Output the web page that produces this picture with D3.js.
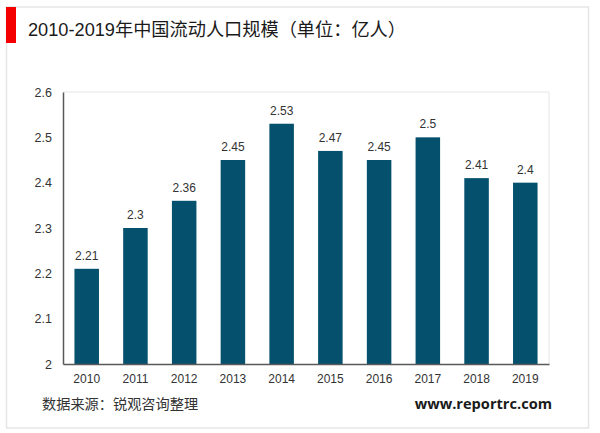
<!DOCTYPE html>
<html>
<head>
<meta charset="utf-8">
<script src="https://cdn.jsdelivr.net/npm/d3@7/dist/d3.min.js"></script>
<style>
html, body { margin: 0; padding: 0; background: #fff; }
svg { display: block; }
text { font-family: "Liberation Sans", Arial, sans-serif; }
.cjk { font-family: "Liberation Sans", "Noto Sans CJK SC", sans-serif; }
.site { font-family: "Open Sans", sans-serif; font-weight: 700; }
</style>
</head>
<body>
<div id="chart"></div>
<script>
var years = ['2010', '2011', '2012', '2013', '2014', '2015', '2016', '2017', '2018', '2019'];
var values = [2.21, 2.3, 2.36, 2.45, 2.53, 2.47, 2.45, 2.5, 2.41, 2.4];
var yTicks = [2, 2.1, 2.2, 2.3, 2.4, 2.5, 2.6];
var titleText = '2010-2019年中国流动人口规模（单位：亿人）';
var sourceText = '数据来源：锐观咨询整理';
var siteText = 'www.reportrc.com';

var width = 600, height = 433;
var margin = { top: 92, right: 51, bottom: 69, left: 63 };

var svg = d3.select('#chart').append('svg')
	.attr('width', width)
	.attr('height', height);

// 外框
svg.append('rect')
	.attr('x', 6.5).attr('y', 7)
	.attr('width', 582).attr('height', 421)
	.attr('fill', '#fff')
	.attr('stroke', '#e6e6e6')
	.attr('stroke-width', 1.5);

svg.append('rect')
	.attr('x', 6).attr('y', 7)
	.attr('width', 10).attr('height', 36)
	.attr('fill', '#f50000');

svg.append('text')
	.attr('class', 'cjk')
	.attr('x', 28).attr('y', 36)
	.attr('font-size', 18.2)
	.attr('fill', '#1a1a1a')
	.text(titleText);

var x = d3.scaleBand()
	.domain(years)
	.range([margin.left, width - margin.right])
	.paddingInner(0.497)
	.paddingOuter(0.235);

var y = d3.scaleLinear()
	.domain([2, 2.6])
	.range([height - margin.bottom, margin.top]);

// 上、右边的浅色线
svg.append('path')
	.attr('d', 'M' + margin.left + ',' + margin.top + 'H' + (width - margin.right) + 'V' + (height - margin.bottom))
	.attr('fill', 'none')
	.attr('stroke', '#e6e6e6')
	.attr('stroke-width', 1);

svg.selectAll('.bar')
	.data(values)
	.enter().append('rect')
	.attr('class', 'bar')
	.attr('x', function(d, i) { return x(years[i]); })
	.attr('y', function(d) { return y(d); })
	.attr('width', x.bandwidth())
	.attr('height', function(d) { return y(2) - y(d); })
	.attr('fill', '#04506d');

svg.selectAll('.label')
	.data(values)
	.enter().append('text')
	.attr('class', 'label')
	.attr('x', function(d, i) { return x(years[i]) + x.bandwidth() / 2; })
	.attr('y', function(d) { return y(d) - 9; })
	.attr('text-anchor', 'middle')
	.attr('font-size', 12)
	.attr('fill', '#333')
	.text(function(d) { return d; });

var xAxis = svg.append('g')
	.attr('transform', 'translate(0,' + (height - margin.bottom) + ')')
	.call(d3.axisBottom(x).tickSize(0).tickPadding(10));
xAxis.select('.domain').attr('stroke', '#595959').attr('stroke-width', 1.5);
xAxis.selectAll('text').attr('font-size', 12).attr('fill', '#333');

var yAxis = svg.append('g')
	.attr('transform', 'translate(' + margin.left + ',0)')
	.call(d3.axisLeft(y).tickValues(yTicks).tickSize(0).tickPadding(11).tickFormat(function(d) { return d; }));
yAxis.select('.domain').attr('stroke', '#595959').attr('stroke-width', 1.5);
yAxis.selectAll('text').attr('font-size', 12.5).attr('fill', '#333');

svg.append('text')
	.attr('class', 'cjk')
	.attr('x', 42).attr('y', 409)
	.attr('font-size', 14.2)
	.attr('fill', '#333')
	.text(sourceText);

svg.append('text')
	.attr('class', 'site')
	.attr('x', 552).attr('y', 409)
	.attr('text-anchor', 'end')
	.attr('font-size', 14.6)
	.attr('fill', '#1a1a1a')
	.text(siteText);
</script>
</body>
</html>
